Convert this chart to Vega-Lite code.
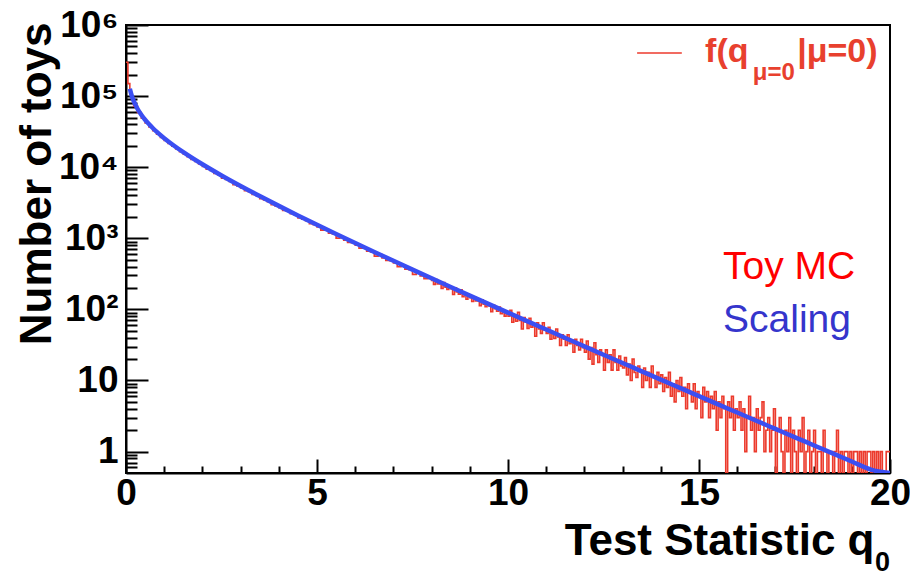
{
  "$schema": "https://vega.github.io/schema/vega-lite/v6.json",
  "autosize": {"type": "none"},
  "padding": {"left": 126, "top": 25, "right": 20, "bottom": 104},
  "width": 764,
  "height": 448,
  "background": "#ffffff",
  "title": {"text": "0", "orient": "bottom", "anchor": "end", "frame": "group", "font": "Liberation Sans", "fontWeight": "bold", "fontSize": 27, "color": "#000000", "offset": 0, "dy": -13, "baseline": "top"},
  "config": {
    "font": "Liberation Sans",
    "view": {"stroke": "#000000", "strokeWidth": 2},
    "axis": {
      "grid": false,
      "domainColor": "#000000", "domainWidth": 2,
      "tickColor": "#000000", "tickWidth": 2,
      "labelOverlap": false, "labelFlush": false, "labelBound": false,
      "labelFont": "Liberation Sans", "labelFontWeight": "bold", "labelFontSize": 37, "labelColor": "#000000",
      "titleFont": "Liberation Sans", "titleFontWeight": "bold", "titleFontSize": 44, "titleColor": "#000000"
    }
  },
  "datasets": {
    "toys": [
      {"q":0,"n":300000},{"q":0.05,"n":150000},{"q":0.1,"n":112000},{"q":0.15,"n":92000},{"q":0.2,"n":72000},
      {"q":0.3,"n":58500},{"q":0.4,"n":49000},{"q":0.5,"n":42000},{"q":0.6,"n":36800},{"q":0.7,"n":32600},
      {"q":0.8,"n":29100},{"q":0.9,"n":26200},{"q":1.0,"n":23700},{"q":1.1,"n":21500},{"q":1.2,"n":19700},
      {"q":1.3,"n":18000},{"q":1.4,"n":16500},{"q":1.5,"n":15200},{"q":1.6,"n":14000},{"q":1.7,"n":12900},
      {"q":1.8,"n":12000},{"q":1.9,"n":11100},
      {"q":2.0,"n":10280},{"q":2.1,"n":9370},{"q":2.2,"n":8990},{"q":2.3,"n":8190},{"q":2.4,"n":7860},
      {"q":2.5,"n":7030},{"q":2.6,"n":6700},{"q":2.7,"n":6320},{"q":2.8,"n":5670},{"q":2.9,"n":5460},
      {"q":3.0,"n":5110},{"q":3.1,"n":4690},{"q":3.2,"n":4530},{"q":3.3,"n":4150},{"q":3.4,"n":4010},
      {"q":3.5,"n":3610},{"q":3.6,"n":3460},{"q":3.7,"n":3280},{"q":3.8,"n":2960},{"q":3.9,"n":2860},
      {"q":4.0,"n":2690},{"q":4.1,"n":2470},{"q":4.2,"n":2400},{"q":4.3,"n":2210},{"q":4.4,"n":2140},
      {"q":4.5,"n":1930},{"q":4.6,"n":1860},{"q":4.7,"n":1770},{"q":4.8,"n":1600},{"q":4.9,"n":1550},
      {"q":5.0,"n":1445},{"q":5.1,"n":1305},{"q":5.2,"n":1323},{"q":5.3,"n":1183},{"q":5.4,"n":1150},
      {"q":5.5,"n":1006},{"q":5.6,"n":1054},{"q":5.7,"n":944},{"q":5.8,"n":872},{"q":5.9,"n":866},
      {"q":6.0,"n":801},{"q":6.1,"n":724},{"q":6.2,"n":736},{"q":6.3,"n":659},{"q":6.4,"n":641},
      {"q":6.5,"n":562},{"q":6.6,"n":589},{"q":6.7,"n":528},{"q":6.8,"n":488},{"q":6.9,"n":486},
      {"q":7.0,"n":450},{"q":7.1,"n":399},{"q":7.2,"n":422},{"q":7.3,"n":367},{"q":7.4,"n":362},
      {"q":7.5,"n":311},{"q":7.6,"n":333},{"q":7.7,"n":296},{"q":7.8,"n":271},{"q":7.9,"n":278},
      {"q":8.0,"n":256},{"q":8.05,"n":225},{"q":8.1,"n":263},{"q":8.15,"n":228},{"q":8.2,"n":236},
      {"q":8.25,"n":197},{"q":8.3,"n":239},{"q":8.35,"n":206},{"q":8.4,"n":191},{"q":8.45,"n":211},
      {"q":8.5,"n":196},{"q":8.55,"n":162},{"q":8.6,"n":201},{"q":8.65,"n":176},{"q":8.7,"n":164},
      {"q":8.75,"n":188},{"q":8.8,"n":151},{"q":8.85,"n":163},{"q":8.9,"n":139},{"q":8.95,"n":161},
      {"q":9.0,"n":146},{"q":9.05,"n":129},{"q":9.1,"n":150},{"q":9.15,"n":131},{"q":9.2,"n":135},
      {"q":9.25,"n":113},{"q":9.3,"n":137},{"q":9.35,"n":118},{"q":9.4,"n":109},{"q":9.45,"n":121},
      {"q":9.5,"n":112},{"q":9.55,"n":93},{"q":9.6,"n":115},{"q":9.65,"n":102},{"q":9.7,"n":94},
      {"q":9.75,"n":108},{"q":9.8,"n":87},{"q":9.85,"n":93},{"q":9.9,"n":80},{"q":9.95,"n":93},
      {"q":10.0,"n":80},{"q":10.05,"n":97},{"q":10.1,"n":66},{"q":10.15,"n":82},{"q":10.2,"n":68},
      {"q":10.25,"n":91},{"q":10.3,"n":70},{"q":10.35,"n":53},{"q":10.4,"n":77},{"q":10.45,"n":66},
      {"q":10.5,"n":54},{"q":10.55,"n":75},{"q":10.6,"n":56},{"q":10.65,"n":63},{"q":10.7,"n":42},
      {"q":10.75,"n":65},{"q":10.8,"n":53},{"q":10.85,"n":46},{"q":10.9,"n":65},{"q":10.95,"n":51},
      {"q":11.0,"n":46},{"q":11.05,"n":56},{"q":11.1,"n":38},{"q":11.15,"n":47},{"q":11.2,"n":39},
      {"q":11.25,"n":53},{"q":11.3,"n":41},{"q":11.35,"n":31},{"q":11.4,"n":44},{"q":11.45,"n":38},
      {"q":11.5,"n":31},{"q":11.55,"n":44},{"q":11.6,"n":33},{"q":11.65,"n":37},{"q":11.7,"n":25},
      {"q":11.75,"n":38},{"q":11.8,"n":31},{"q":11.85,"n":27},{"q":11.9,"n":38},{"q":11.95,"n":29},
      {"q":12.0,"n":25},{"q":12.05,"n":36},{"q":12.1,"n":20},{"q":12.15,"n":29},{"q":12.2,"n":17},
      {"q":12.25,"n":34},{"q":12.3,"n":23},{"q":12.35,"n":18},{"q":12.4,"n":27},{"q":12.45,"n":23},
      {"q":12.5,"n":14},{"q":12.55,"n":27},{"q":12.6,"n":18},{"q":12.65,"n":23},{"q":12.7,"n":14},
      {"q":12.75,"n":27},{"q":12.8,"n":18},{"q":12.85,"n":14},{"q":12.9,"n":22},{"q":12.95,"n":16},
      {"q":13.0,"n":15},{"q":13.05,"n":21},{"q":13.1,"n":12},{"q":13.15,"n":17},{"q":13.2,"n":10},
      {"q":13.25,"n":20},{"q":13.3,"n":13},{"q":13.35,"n":11},{"q":13.4,"n":16},{"q":13.45,"n":14},
      {"q":13.5,"n":8},{"q":13.55,"n":15},{"q":13.6,"n":10},{"q":13.65,"n":13},{"q":13.7,"n":8},
      {"q":13.75,"n":16},{"q":13.8,"n":11},{"q":13.85,"n":8},{"q":13.9,"n":13},{"q":13.95,"n":9},
      {"q":14.0,"n":12},{"q":14.05,"n":7},{"q":14.1,"n":11},{"q":14.15,"n":8},{"q":14.2,"n":13},
      {"q":14.25,"n":6},{"q":14.3,"n":9},{"q":14.35,"n":5},{"q":14.4,"n":10},{"q":14.45,"n":7},
      {"q":14.5,"n":11},{"q":14.55,"n":6},{"q":14.6,"n":8},{"q":14.65,"n":4},{"q":14.7,"n":9},
      {"q":14.75,"n":7},{"q":14.8,"n":5},{"q":14.85,"n":9},{"q":14.9,"n":4},{"q":14.95,"n":7},
      {"q":15.0,"n":6},{"q":15.05,"n":3},{"q":15.1,"n":8},{"q":15.15,"n":5},{"q":15.2,"n":7},
      {"q":15.25,"n":3},{"q":15.3,"n":6},{"q":15.35,"n":4},{"q":15.4,"n":7},{"q":15.45,"n":2},
      {"q":15.5,"n":5},{"q":15.55,"n":3},{"q":15.6,"n":6},{"q":15.65,"n":4},{"q":15.7,"n":0},
      {"q":15.75,"n":5},{"q":15.8,"n":3},{"q":15.85,"n":6},{"q":15.9,"n":2},{"q":15.95,"n":4},
      {"q":16.0,"n":3},{"q":16.05,"n":5},{"q":16.1,"n":2},{"q":16.15,"n":4},{"q":16.2,"n":1},
      {"q":16.25,"n":3},{"q":16.3,"n":6},{"q":16.35,"n":2},{"q":16.4,"n":3},{"q":16.45,"n":1},
      {"q":16.5,"n":4},{"q":16.55,"n":2},{"q":16.6,"n":3},{"q":16.65,"n":5},{"q":16.7,"n":1},
      {"q":16.75,"n":2},{"q":16.8,"n":3},{"q":16.85,"n":1},{"q":16.9,"n":2},{"q":16.95,"n":4},
      {"q":17.0,"n":0},{"q":17.05,"n":2},{"q":17.1,"n":3},{"q":17.15,"n":1},{"q":17.2,"n":0},
      {"q":17.25,"n":2},{"q":17.3,"n":1},{"q":17.35,"n":3},{"q":17.4,"n":0},{"q":17.45,"n":2},
      {"q":17.5,"n":1},{"q":17.55,"n":0},{"q":17.6,"n":2},{"q":17.65,"n":1},{"q":17.7,"n":3},
      {"q":17.75,"n":0},{"q":17.8,"n":1},{"q":17.85,"n":2},{"q":17.9,"n":0},{"q":17.95,"n":1},
      {"q":18.0,"n":2},{"q":18.05,"n":0},{"q":18.1,"n":1},{"q":18.15,"n":1},{"q":18.2,"n":0},
      {"q":18.25,"n":2},{"q":18.3,"n":1},{"q":18.35,"n":0},{"q":18.4,"n":1},{"q":18.45,"n":1},
      {"q":18.5,"n":0},{"q":18.55,"n":1},{"q":18.6,"n":2},{"q":18.65,"n":0},{"q":18.7,"n":1},
      {"q":18.75,"n":0},{"q":18.8,"n":1},{"q":18.85,"n":1},{"q":18.9,"n":0},{"q":18.95,"n":1},
      {"q":19.0,"n":0},{"q":19.05,"n":1},{"q":19.1,"n":1},{"q":19.15,"n":0},{"q":19.2,"n":1},
      {"q":19.25,"n":0},{"q":19.3,"n":1},{"q":19.35,"n":0},{"q":19.4,"n":1},{"q":19.45,"n":1},
      {"q":19.5,"n":0},{"q":19.55,"n":1},{"q":19.6,"n":0},{"q":19.65,"n":1},{"q":19.7,"n":0},
      {"q":19.75,"n":1},{"q":19.8,"n":0},{"q":19.85,"n":0},{"q":19.9,"n":1},{"q":19.95,"n":1},
      {"q":20.0,"n":1}
    ],
    "scaling": [
      {"q":0.1,"n":127060},{"q":0.15,"n":101180},{"q":0.2,"n":85460},{"q":0.3,"n":66380},{"q":0.4,"n":54680},
      {"q":0.5,"n":46520},{"q":0.6,"n":40400},{"q":0.7,"n":35580},{"q":0.8,"n":31660},{"q":1.0,"n":25620},
      {"q":1.25,"n":20220},{"q":1.5,"n":16290},{"q":2.0,"n":10990},{"q":2.5,"n":7654},{"q":3.0,"n":5441},
      {"q":3.5,"n":3924},{"q":4.0,"n":2858},{"q":4.5,"n":2099},{"q":5.0,"n":1551},{"q":5.5,"n":1151},
      {"q":6.0,"n":858.6},{"q":6.5,"n":642.4},{"q":7.0,"n":482.2},{"q":7.5,"n":362.8},{"q":8.0,"n":273.6},
      {"q":8.5,"n":206.6},{"q":9.0,"n":156.4},{"q":9.5,"n":118.6},{"q":10.0,"n":90.0},{"q":10.5,"n":68.4},
      {"q":11.0,"n":52.05},{"q":11.5,"n":39.65},{"q":12.0,"n":30.23},{"q":12.5,"n":23.06},{"q":13.0,"n":17.61},
      {"q":13.5,"n":13.46},{"q":14.0,"n":10.29},{"q":14.5,"n":7.878},{"q":15.0,"n":6.032},{"q":15.5,"n":4.621},
      {"q":16.0,"n":3.543},{"q":16.5,"n":2.717},{"q":17.0,"n":2.085},{"q":17.5,"n":1.6},{"q":18.0,"n":1.229},
      {"q":18.5,"n":0.944},{"q":19.0,"n":0.7253},{"q":19.5,"n":0.5577},{"q":20.0,"n":0.4288}
    ],
    "labels": [
      {"label": "f(q", "q": 15.16, "n": 302000, "part": "legend"},
      {"label": "μ=0", "q": 16.41, "n": 168000, "part": "legendsub"},
      {"label": "|μ=0)", "q": 17.57, "n": 302000, "part": "legend"},
      {"label": "Toy MC", "q": 15.63, "n": 268, "part": "toy"},
      {"label": "Scaling", "q": 15.63, "n": 48, "part": "scaling"}
    ],
    "legendline": [
      {"q": 13.38, "q2": 14.55, "n": 404000}
    ]
  },
  "encoding": {
    "x": {
      "field": "q", "type": "quantitative",
      "scale": {"domain": [0, 20], "nice": false, "zero": false},
      "axis": {
        "title": "Test Statistic q",
        "titleAlign": "right", "titleAnchor": "end", "titleBaseline": "alphabetic",
        "titleX": 748, "titleY": 81,
        "values": [0,1,2,3,4,5,6,7,8,9,10,11,12,13,14,15,16,17,18,19,20],
        "labelExpr": "datum.value % 5 === 0 ? datum.label : ''",
        "tickSize": {"condition": {"test": "datum.value % 5 === 0", "value": -14}, "value": -7},
        "labelPadding": 16,
        "labelFlush": false, "labelOverlap": false, "labelBound": false
      }
    },
    "y": {
      "field": "n", "type": "quantitative",
      "scale": {"type": "log", "domain": [0.5, 1000000], "nice": false, "clamp": true},
      "axis": {
        "title": "Number of toys",
        "titleAlign": "right", "titleAnchor": "end", "titleBaseline": "alphabetic", "titleAngle": -90,
        "titleX": -76, "titleY": -3,
        "values": [0.6,0.7,0.8,0.9,1,2,3,4,5,6,7,8,9,10,20,30,40,50,60,70,80,90,100,200,300,400,500,600,700,800,900,1000,2000,3000,4000,5000,6000,7000,8000,9000,10000,20000,30000,40000,50000,60000,70000,80000,90000,100000,200000,300000,400000,500000,600000,700000,800000,900000,1000000],
        "labelExpr": "datum.value == 1 ? '1' : datum.value == 10 ? '10' : datum.value == 100 ? '10²' : datum.value == 1000 ? '10³' : datum.value == 10000 ? '10⁴' : datum.value == 100000 ? '10⁵' : datum.value == 1000000 ? '10⁶' : ''",
        "tickSize": {"condition": {"test": "indexof([1,10,100,1000,10000,100000,1000000], datum.value) >= 0", "value": -22}, "value": -11},
        "labelPadding": 30,
        "labelBaseline": "middle",
        "labelFlush": false, "labelOverlap": false, "labelBound": false
      }
    }
  },
  "layer": [
    {
      "data": {"name": "toys"},
      "mark": {"type": "line", "interpolate": "step-after", "color": "#ec3a2c", "strokeWidth": 1.6, "invalid": "show", "clip": true}
    },
    {
      "data": {"name": "scaling"},
      "mark": {"type": "line", "interpolate": "monotone", "color": "#3b4ef2", "strokeWidth": 4.5, "clip": true}
    },
    {
      "data": {"name": "legendline"},
      "mark": {"type": "rule", "color": "#ec3a2c", "strokeWidth": 1.5},
      "encoding": {
        "x2": {"field": "q2"}
      }
    },
    {
      "data": {"name": "labels"},
      "transform": [{"filter": "datum.part === 'legend'"}],
      "mark": {"type": "text", "align": "left", "baseline": "alphabetic", "font": "Liberation Sans", "fontWeight": "bold", "fontSize": 34, "color": "#e8402e"},
      "encoding": {
        "text": {"field": "label"}
      }
    },
    {
      "data": {"name": "labels"},
      "transform": [{"filter": "datum.part === 'legendsub'"}],
      "mark": {"type": "text", "align": "left", "baseline": "alphabetic", "font": "Liberation Sans", "fontWeight": "bold", "fontSize": 24, "color": "#e8402e"},
      "encoding": {
        "text": {"field": "label"}
      }
    },
    {
      "data": {"name": "labels"},
      "transform": [{"filter": "datum.part === 'toy'"}],
      "mark": {"type": "text", "align": "left", "baseline": "alphabetic", "font": "Liberation Sans", "fontSize": 39, "color": "#ff0000"},
      "encoding": {
        "text": {"field": "label"}
      }
    },
    {
      "data": {"name": "labels"},
      "transform": [{"filter": "datum.part === 'scaling'"}],
      "mark": {"type": "text", "align": "left", "baseline": "alphabetic", "font": "Liberation Sans", "fontSize": 39, "color": "#3535cc"},
      "encoding": {
        "text": {"field": "label"}
      }
    }
  ]
}
